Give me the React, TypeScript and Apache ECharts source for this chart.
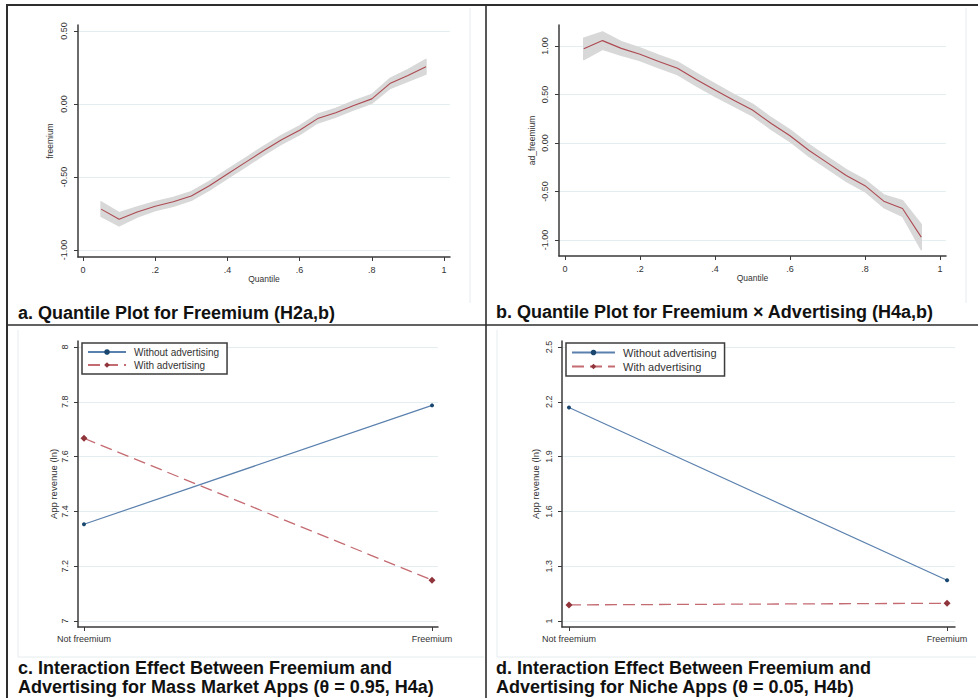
import React, { useEffect, useRef } from "react";
import * as echarts from "echarts";

// ---------- Data ----------
const quantiles = [0.05, 0.1, 0.15, 0.2, 0.25, 0.3, 0.35, 0.4, 0.45, 0.5, 0.55, 0.6, 0.65, 0.7, 0.75, 0.8, 0.85, 0.9, 0.95];

const freemiumCoef = [-0.72, -0.79, -0.74, -0.7, -0.67, -0.63, -0.56, -0.48, -0.4, -0.32, -0.245, -0.18, -0.1, -0.06, -0.01, 0.035, 0.14, 0.195, 0.255];
const freemiumLower = [-0.77, -0.835, -0.775, -0.73, -0.7, -0.66, -0.59, -0.51, -0.43, -0.35, -0.275, -0.21, -0.13, -0.09, -0.04, 0.005, 0.105, 0.155, 0.205];
const freemiumUpper = [-0.67, -0.745, -0.705, -0.67, -0.64, -0.6, -0.53, -0.45, -0.37, -0.29, -0.215, -0.15, -0.07, -0.03, 0.02, 0.065, 0.175, 0.235, 0.305];

const adFreemiumCoef = [0.97, 1.055, 0.975, 0.915, 0.84, 0.77, 0.655, 0.545, 0.44, 0.34, 0.2, 0.075, -0.075, -0.205, -0.335, -0.44, -0.6, -0.675, -0.97];
const adFreemiumLower = [0.86, 0.965, 0.905, 0.85, 0.775, 0.705, 0.59, 0.48, 0.38, 0.28, 0.14, 0.015, -0.135, -0.265, -0.395, -0.5, -0.665, -0.755, -1.1];
const adFreemiumUpper = [1.08, 1.145, 1.045, 0.98, 0.905, 0.835, 0.72, 0.61, 0.5, 0.4, 0.26, 0.135, -0.015, -0.145, -0.275, -0.38, -0.535, -0.595, -0.84];

const quantileTicks = [0, 0.2, 0.4, 0.6, 0.8, 1];
const yTicksA = [-1, -0.5, 0, 0.5];
const yTicksB = [-1, -0.5, 0, 0.5, 1];

const freemiumCategories = ["Not freemium", "Freemium"];
const seriesNames = ["Without advertising", "With advertising"];

const yTicksC = [7, 7.2, 7.4, 7.6, 7.8, 8];
const massWithout = [7.353, 7.787];
const massWith = [7.667, 7.149];

const yTicksD = [1, 1.3, 1.6, 1.9, 2.2, 2.5];
const nicheWithout = [2.169, 1.223];
const nicheWith = [1.088, 1.097];

const captionA = "a. Quantile Plot for Freemium (H2a,b)";
const captionB = "b. Quantile Plot for Freemium \u00d7 Advertising (H4a,b)";
const captionC1 = "c. Interaction Effect Between Freemium and";
const captionC2 = "Advertising for Mass Market Apps (\u03b8 = 0.95, H4a)";
const captionD1 = "d. Interaction Effect Between Freemium and";
const captionD2 = "Advertising for Niche Apps (\u03b8 = 0.05, H4b)";

// ---------- Styles ----------
const FONT = "Liberation Sans, Arial, sans-serif";
const AXIS_COLOR = "#3a3a3a";
const LABEL_COLOR = "#333";
const GRID_COLOR = "#e4eef0";
const QLINE = "#ad4a52";
const BAND = "#d8d8d8";
const BLUE_LINE = "#5a80ae";
const BLUE_MARK = "#1a476f";
const RED_LINE = "#c46a71";
const RED_MARK = "#90353b";

function axisBase(gridIndex: number, min: number, max: number, ticks: number[], fmt: (v: number) => string, labelExtra: any = {}) {
  return {
    type: "value",
    gridIndex,
    min,
    max,
    axisLine: { show: true, onZero: false, lineStyle: { color: AXIS_COLOR, width: 1.5 } },
    axisTick: { show: true, length: 4, customValues: ticks, lineStyle: { color: AXIS_COLOR, width: 1 } },
    axisLabel: {
      customValues: ticks,
      formatter: (v: number) => fmt(v),
      fontSize: 9,
      color: LABEL_COLOR,
      fontFamily: FONT,
      ...labelExtra,
    },
    splitLine: { show: false },
  };
}

const quantFmt = (v: number) => (Math.abs(v) < 1e-9 ? "0" : Math.abs(v - 1) < 1e-9 ? "1" : v.toFixed(1).replace(/^0/, ""));
const fixed2 = (v: number) => v.toFixed(2);
const oneDec = (v: number) => String(+v.toFixed(1));
const catFmt = (v: number) => freemiumCategories[Math.round(v)] ?? "";

function yAxis(gridIndex: number, min: number, max: number, ticks: number[], fmt: (v: number) => string, name: string, nameGap: number, labelMargin: number, nameSize: number) {
  const a: any = axisBase(gridIndex, min, max, ticks, fmt, { rotate: 90, margin: labelMargin });
  a.splitLine = { show: true, lineStyle: { color: GRID_COLOR, width: 1 } };
  a.name = name;
  a.nameLocation = "middle";
  a.nameRotate = 90;
  a.nameGap = nameGap;
  a.nameTextStyle = { fontSize: nameSize, color: LABEL_COLOR, fontFamily: FONT };
  return a;
}

function xAxis(gridIndex: number, min: number, max: number, ticks: number[], fmt: (v: number) => string, name: string | undefined, labelMargin: number) {
  const a: any = axisBase(gridIndex, min, max, ticks, fmt, { margin: labelMargin });
  if (name) {
    a.name = name;
    a.nameLocation = "middle";
    a.nameGap = 16;
    a.nameTextStyle = { fontSize: 8.5, color: LABEL_COLOR, fontFamily: FONT };
  }
  return a;
}

function bandSeries(idx: number, lower: number[], upper: number[], coef: number[]) {
  return [
    {
      type: "custom",
      coordinateSystem: "cartesian2d",
      xAxisIndex: idx,
      yAxisIndex: idx,
      data: quantiles.map((q, i) => [q, lower[i], upper[i]]),
      encode: { x: 0, y: [1, 2] },
      silent: true,
      z: 1,
      renderItem: (params: any, api: any) => {
        if (params.dataIndex !== 0) return null;
        const top = quantiles.map((q, i) => api.coord([q, upper[i]]));
        const bottom = quantiles.map((q, i) => api.coord([q, lower[i]])).reverse();
        return {
          type: "polygon",
          shape: { points: top.concat(bottom) },
          style: { fill: BAND, stroke: BAND, lineWidth: 1.5, lineJoin: "round" },
        };
      },
    },
    {
      type: "line",
      xAxisIndex: idx,
      yAxisIndex: idx,
      data: quantiles.map((q, i) => [q, coef[i]]),
      showSymbol: false,
      symbol: "none",
      lineStyle: { color: QLINE, width: 1.1 },
      silent: true,
      z: 3,
    },
  ];
}

function interactionSeries(idx: number, without: number[], withAd: number[]) {
  return [
    {
      type: "line",
      name: seriesNames[0],
      xAxisIndex: idx,
      yAxisIndex: idx,
      data: without.map((v, i) => [i, v]),
      symbol: "circle",
      symbolSize: 4,
      itemStyle: { color: BLUE_MARK },
      lineStyle: { color: BLUE_LINE, width: 1.2 },
      silent: true,
      z: 3,
    },
    {
      type: "line",
      name: seriesNames[1],
      xAxisIndex: idx,
      yAxisIndex: idx,
      data: withAd.map((v, i) => [i, v]),
      symbol: "diamond",
      symbolSize: 7,
      itemStyle: { color: RED_MARK },
      lineStyle: { color: RED_LINE, width: 1.3, type: [12, 6] },
      silent: true,
      z: 3,
    },
  ];
}

function line(x1: number, y1: number, x2: number, y2: number, color: string, width: number) {
  return { type: "line", silent: true, z: 10, shape: { x1, y1, x2, y2 }, style: { stroke: color, lineWidth: width } };
}

function caption(text: string, x: number, y: number) {
  return {
    type: "text",
    silent: true,
    z: 10,
    x,
    y,
    style: {
      text,
      fontSize: 18,
      fontWeight: "bold",
      fontFamily: FONT,
      fill: "#111",
      verticalAlign: "middle",
      align: "left",
    },
  };
}

function legend(left: number, top: number, itemWidth: number, fontSize: number) {
  return {
    left,
    top,
    orient: "vertical",
    data: seriesNames,
    selectedMode: false,
    backgroundColor: "#fff",
    borderColor: "#3c3c3c",
    borderWidth: 1.5,
    borderRadius: 0,
    padding: [4, 8, 4, 5],
    itemGap: 3,
    itemWidth,
    itemHeight: 7,
    textStyle: { fontSize, color: LABEL_COLOR, fontFamily: FONT, padding: [0, 0, 0, 3] },
  };
}

export default function App() {
  const ref = useRef<HTMLDivElement>(null);

  useEffect(() => {
    if (!ref.current) return;
    const chart = echarts.init(ref.current, undefined, { renderer: "svg" });

    const option: any = {
      animation: false,
      backgroundColor: "#fff",
      textStyle: { fontFamily: FONT },
      grid: [
        { left: 78, top: 25, width: 372, height: 232 },
        { left: 559, top: 25, width: 387, height: 231 },
        { left: 78, top: 341, width: 360, height: 286 },
        { left: 562, top: 341, width: 393, height: 286 },
      ],
      xAxis: [
        xAxis(0, -0.0139, 1.0166, quantileTicks, quantFmt, "Quantile", 8),
        xAxis(1, -0.016, 1.016, quantileTicks, quantFmt, "Quantile", 8),
        xAxis(2, -0.0172, 1.0172, [0, 1], catFmt, undefined, 7),
        xAxis(3, -0.0185, 1.021, [0, 1], catFmt, undefined, 7),
      ],
      yAxis: [
        yAxis(0, -1.048, 0.541, yTicksA, fixed2, "freemium", 24, 10, 8.5),
        yAxis(1, -1.165, 1.216, yTicksB, fixed2, "ad_freemium", 23, 10, 8.5),
        yAxis(2, 6.978, 8.022, yTicksC, oneDec, "App revenue (ln)", 20, 9, 9.5),
        yAxis(3, 0.967, 2.533, yTicksD, oneDec, "App revenue (ln)", 22, 9, 9.5),
      ],
      legend: [legend(82, 343, 38, 10), legend(566, 343, 43, 11)],
      series: [
        ...bandSeries(0, freemiumLower, freemiumUpper, freemiumCoef),
        ...bandSeries(1, adFreemiumLower, adFreemiumUpper, adFreemiumCoef),
        ...interactionSeries(2, massWithout, massWith),
        ...interactionSeries(3, nicheWithout, nicheWith),
      ],
      graphic: [
        // faint inner panel frames
        line(470, 8, 470, 303, "#e6ecee", 1),
        line(966, 8, 966, 303, "#e6ecee", 1),
        line(18, 330, 18, 657, "#e6ecee", 1),
        line(18, 657, 484, 657, "#e6ecee", 1),
        line(497, 330, 497, 657, "#e6ecee", 1),
        line(497, 657, 976, 657, "#e6ecee", 1),
        // outer frame and dividers
        line(6, 5, 978, 5, "#2e2e2e", 2),
        line(7, 5, 7, 698, "#2e2e2e", 2),
        line(486, 5, 486, 698, "#2e2e2e", 1.6),
        line(7, 325, 978, 325, "#2e2e2e", 1.6),
        // captions
        caption(captionA, 18, 313),
        caption(captionB, 496, 312),
        caption(captionC1, 18, 668),
        caption(captionC2, 18, 687),
        caption(captionD1, 496, 668),
        caption(captionD2, 496, 687),
      ],
    };

    chart.setOption(option);
    return () => chart.dispose();
  }, []);

  return <div ref={ref} style={{ position: "fixed", left: 0, top: 0, width: 978, height: 698, background: "#fff" }} />;
}
